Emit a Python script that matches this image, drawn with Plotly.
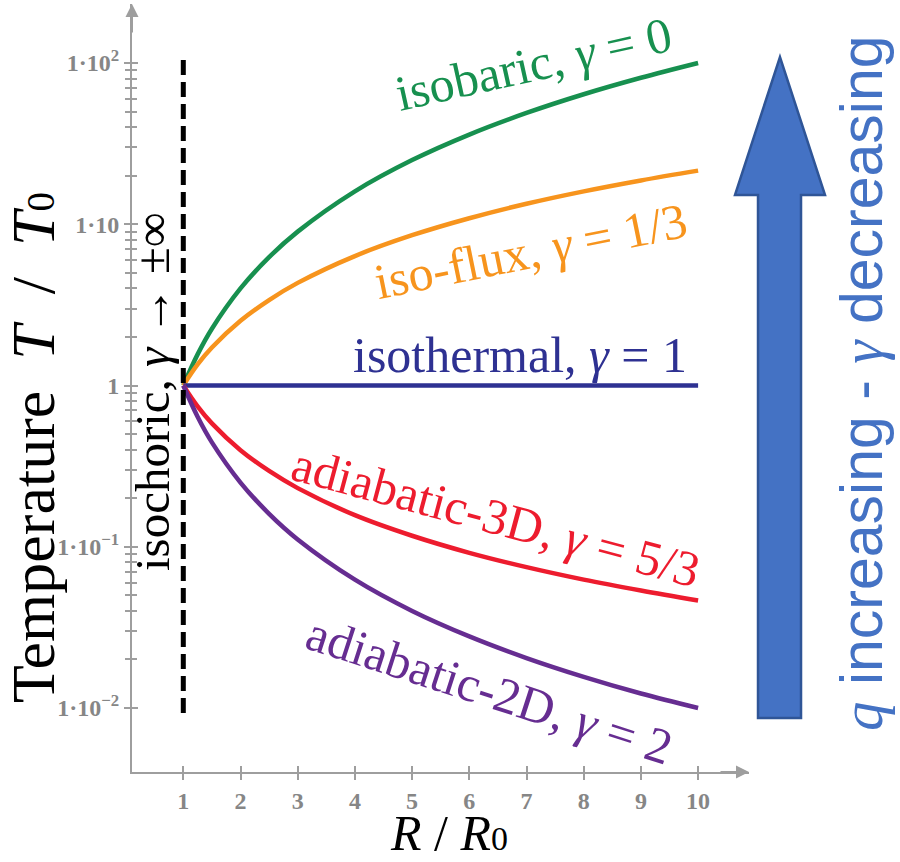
import plotly.graph_objects as go

# ---------------- data ----------------
R = [1, 1.25, 1.5, 2, 2.5, 3, 4, 5, 6, 7, 8, 9, 10]
T_isobaric = [1, 1.56, 2.25, 4.0, 6.25, 9.0, 16.0, 25.0, 36.0, 49.0, 64.0, 81.0, 100.0]
T_isoflux = [1, 1.35, 1.72, 2.52, 3.39, 4.33, 6.35, 8.55, 10.9, 13.4, 16.0, 18.7, 21.5]
T_isothermal = [1, 1, 1, 1, 1, 1, 1, 1, 1, 1, 1, 1, 1]
T_adiabatic3d = [1, 0.742, 0.582, 0.397, 0.295, 0.231, 0.157, 0.117, 0.0917, 0.0747, 0.0625, 0.0535, 0.0464]
T_adiabatic2d = [1, 0.64, 0.444, 0.25, 0.16, 0.111, 0.0625, 0.04, 0.0278, 0.0204, 0.0156, 0.0123, 0.01]
R_isochoric = [1, 1]
T_isochoric = [0.0093, 110]

x_tickvals = [1, 2, 3, 4, 5, 6, 7, 8, 9, 10]
x_ticktext = ["1", "2", "3", "4", "5", "6", "7", "8", "9", "10"]
y_tickvals = [0.01, 0.1, 1, 10, 100]
y_ticktext = ["1·10<sup>\u22122</sup>", "1·10<sup>\u22121</sup>", "1",
              "1·10", "1·10<sup>2</sup>"]
y_minor = [m * d for d in [0.01, 0.1, 1, 10] for m in [2, 3, 4, 5, 6, 7, 8, 9]]

# ---------------- style ----------------
GREEN = "#17904f"
ORANGE = "#f7941d"
NAVY = "#2e3192"
RED = "#ed1c2e"
PURPLE = "#662d91"
AXIS = "#9e9e9e"
TICKFONT = "#868686"
BLUE = "#4472c4"
BLUE_EDGE = "#2f5597"
SERIF = "Liberation Serif, DejaVu Serif, serif"
SANS = "Liberation Sans, Arimo, sans-serif"

W, H = 900, 862
L, Rm, T, B = 132, 151, 4, 90


def px(x):
    return (x - L) / (W - L - Rm)


def py(y):
    return (H - B - y) / (H - T - B)


fig = go.Figure()

curves = [
    (T_isobaric, GREEN),
    (T_isoflux, ORANGE),
    (T_isothermal, NAVY),
    (T_adiabatic3d, RED),
    (T_adiabatic2d, PURPLE),
]
for vals, col in curves:
    fig.add_trace(go.Scatter(x=R, y=vals, mode="lines",
                             line=dict(color=col, width=4.5, shape="spline", smoothing=1.0),
                             hoverinfo="skip", showlegend=False))

fig.add_trace(go.Scatter(x=R_isochoric, y=T_isochoric, mode="lines",
                         line=dict(color="black", width=5, dash="15px,7px"),
                         hoverinfo="skip", showlegend=False))

# invisible trace to realise the overlaid axes (inner half of the ticks)
fig.add_trace(go.Scatter(x=R, y=T_isothermal, xaxis="x2", yaxis="y2", mode="lines",
                         line=dict(width=0), opacity=0, hoverinfo="skip", showlegend=False))

xr = [(L - 126.1) / 57.2, (W - Rm - 126.1) / 57.2]
yr = [-2 - (H - B - 708) / 161.25, 2 + (63 - T) / 161.25]

tickfont = dict(family=SERIF, size=24, color=TICKFONT, weight="bold")

fig.update_layout(
    width=W, height=H,
    margin=dict(l=L, r=Rm, t=T, b=B, autoexpand=False),
    paper_bgcolor="white", plot_bgcolor="white",
    showlegend=False,
    xaxis=dict(range=xr, showline=True, linecolor=AXIS, linewidth=2,
               ticks="outside", ticklen=6, tickwidth=1.5, tickcolor=AXIS,
               tickvals=x_tickvals, ticktext=x_ticktext, tickfont=tickfont,
               showgrid=False, zeroline=False, fixedrange=True),
    yaxis=dict(type="log", range=yr, showline=True, linecolor=AXIS, linewidth=2,
               ticks="outside", ticklen=6, tickwidth=1.5, tickcolor=AXIS,
               tickvals=y_tickvals, ticktext=y_ticktext, tickfont=tickfont,
               minor=dict(tickvals=y_minor, ticks="outside", ticklen=5, tickwidth=1.5,
                          tickcolor=AXIS, showgrid=False),
               showgrid=False, zeroline=False, fixedrange=True),
    xaxis2=dict(range=xr, overlaying="x", anchor="y", side="bottom",
                ticks="inside", ticklen=6, tickwidth=1.5, tickcolor=AXIS,
                tickvals=x_tickvals, showticklabels=False, showline=False,
                showgrid=False, zeroline=False),
    yaxis2=dict(type="log", range=yr, overlaying="y", anchor="x", side="left",
                ticks="inside", ticklen=6, tickwidth=1.5, tickcolor=AXIS,
                tickvals=y_tickvals, showticklabels=False, showline=False,
                minor=dict(tickvals=y_minor, ticks="inside", ticklen=5, tickwidth=1.5,
                           tickcolor=AXIS, showgrid=False),
                showgrid=False, zeroline=False),
)

# axis arrowheads
fig.add_annotation(x=1.0, y=0, xref="paper", yref="paper", ax=-30, ay=0,
                   text="", showarrow=True, arrowhead=2, arrowsize=1.3,
                   arrowwidth=2, arrowcolor=AXIS)
fig.add_annotation(x=0, y=1.0, xref="paper", yref="paper", ax=0, ay=30,
                   text="", showarrow=True, arrowhead=2, arrowsize=1.3,
                   arrowwidth=2, arrowcolor=AXIS)

# big blue arrow
pts = [(758, 718), (758, 195), (735, 195), (780, 57), (825, 195), (801, 195), (801, 718)]
path = "M " + " L ".join(f"{px(a):.4f},{py(b):.4f}" for a, b in pts) + " Z"
fig.add_shape(type="path", path=path, xref="paper", yref="paper",
              fillcolor=BLUE, line=dict(color=BLUE_EDGE, width=2.5))

# curve labels
labels = [
    ("isobaric, <i>γ</i> = 0", GREEN, 533, 64, -12.5),
    ("iso-flux, <i>γ</i> = 1/3", ORANGE, 530, 251, -11.5),
    ("isothermal, <i>γ</i> = 1", NAVY, 520, 355, 0),
    ("adiabatic-3D, <i>γ</i> = 5/3", RED, 496, 517, 15),
    ("adiabatic-2D, <i>γ</i> = 2", PURPLE, 489, 690, 18),
]
for txt, col, cx, cy, ang in labels:
    fig.add_annotation(x=px(cx), y=py(cy), xref="paper", yref="paper", text=txt,
                       showarrow=False, textangle=ang, xanchor="center", yanchor="middle",
                       font=dict(family=SERIF, size=50, color=col))

fig.add_annotation(x=px(153), y=py(392), xref="paper", yref="paper",
                   text="isochoric, <i>γ</i> → ±∞", showarrow=False, textangle=-90,
                   xanchor="center", yanchor="middle",
                   font=dict(family=SERIF, size=49, color="black"))

# axis titles
G = "\u2002"
fig.add_annotation(x=px(33), y=py(448), xref="paper", yref="paper",
                   text="Temperature" + G + "<i>T</i>" + G + "/" + G + "<i>T</i>"
                        "<span style=\"font-size:39px\">0</span>",
                   showarrow=False, textangle=-90, xanchor="center", yanchor="middle",
                   font=dict(family=SERIF, size=62, color="black"))
fig.add_annotation(x=px(449), y=py(833), xref="paper", yref="paper",
                   text="<i>R</i> / <i>R</i><span style=\"font-size:34px\">0</span>",
                   showarrow=False, xanchor="center", yanchor="middle",
                   font=dict(family=SERIF, size=50, color="black"))

# right-hand note
fig.add_annotation(x=px(862), y=py(383), xref="paper", yref="paper",
                   text="<span style=\"font-family:Liberation Serif\"><i>q</i></span> increasing - "
                        "<span style=\"font-family:Liberation Serif\"><i>γ</i></span> decreasing",
                   showarrow=False, textangle=-90, xanchor="center", yanchor="middle",
                   font=dict(family=SANS, size=59, color=BLUE))

fig.write_html("out.html", config={"displayModeBar": False},
               post_script="document.body.style.margin='0';document.body.style.padding='0';")
